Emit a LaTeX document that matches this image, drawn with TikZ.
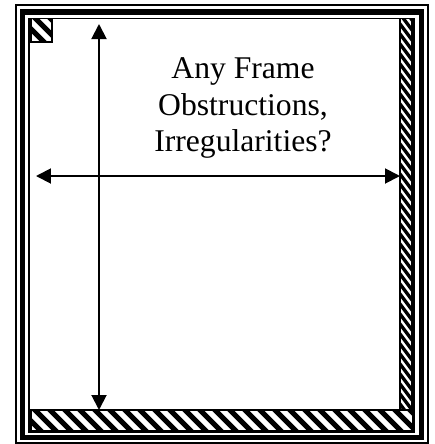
\documentclass[tikz,border=0pt]{standalone}
\usepackage{fontspec}
\setmainfont{Liberation Serif}
\usetikzlibrary{arrows.meta}

\begin{document}
\begin{tikzpicture}[x=0.02cm, y=-0.02cm,
  rimthin/.style={draw=black, line width=0.85pt},
  rimthick/.style={draw=black, line width=3.1pt},
  strip/.style={draw=black, line width=0.6pt},
  hatch/.style={draw=black, line width=3pt},
  span/.style={draw=black, line width=1.1pt,
               {Triangle[length=3mm, width=3mm]}-{Triangle[length=3mm, width=3mm]}},
  ask/.style={font=\fontsize{18}{20.7}\selectfont, align=center, inner sep=0pt},
]
\useasboundingbox (0,0) rectangle (435,444);
% ---- triple frame: thin / thick / thin
\draw[rimthin] (16,5) rectangle (428,443);
\draw[rimthick] (22.5,12) rectangle (421.5,437.5);
\draw[rimthin] (29,18.5) rectangle (414,432);
% ---- hatched corner block, right strip and bottom strip
\begin{scope}
  \clip (31,18.5) rectangle (52,42);
  \foreach \x in {12,27,...,57}
    \draw[hatch] (\x,10) -- ++(40,40);
\end{scope}
\draw[strip] (31,18.5) rectangle (52,42);
\begin{scope}
  \clip (400,18.5) rectangle (412,410);
  \foreach \y in {0,10,...,420}
    \draw[hatch, line width=1.9pt] (397,\y) -- ++(18,24);
\end{scope}
\draw[strip] (400,18.5) rectangle (412,410);
\begin{scope}
  \clip (31,410) rectangle (413,431);
  \foreach \x in {0,15,...,420}
    \draw[hatch] (\x,405) -- ++(31,31);
\end{scope}
\draw[strip] (31,410) rectangle (413,431);
% ---- measuring arrows
\coordinate (top_end) at (99,24);
\coordinate (bottom_end) at (99,410);
\coordinate (left_end) at (36,176);
\coordinate (right_end) at (400,176);
\draw[span] (top_end) -- (bottom_end);
\draw[span] (left_end) -- (right_end);
% ---- question
\node[ask] (question) at (243,108) {Any Frame\\Obstructions,\\Irregularities?};
\end{tikzpicture}
\end{document}
